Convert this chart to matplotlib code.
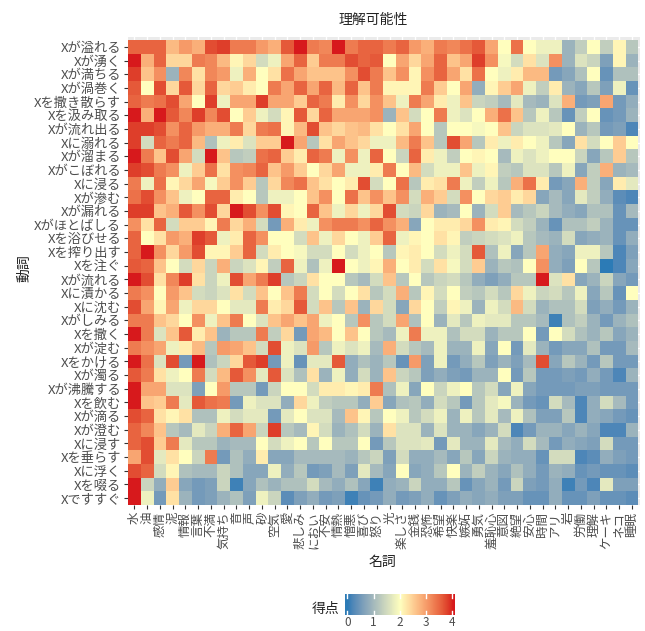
import numpy as np
import matplotlib
matplotlib.use("Agg")
import matplotlib.pyplot as plt
from matplotlib.colors import ListedColormap

plt.rcParams['font.family'] = ['Noto Sans CJK JP', 'DejaVu Sans']

verbs = ["Xが溢れる", "Xが湧く", "Xが満ちる", "Xが渦巻く", "Xを撒き散らす", "Xを汲み取る",
         "Xが流れ出る", "Xに溺れる", "Xが溜まる", "Xがこぼれる", "Xに浸る", "Xが滲む",
         "Xが漏れる", "Xがほとばしる", "Xを浴びせる", "Xを搾り出す", "Xを注ぐ", "Xが流れる",
         "Xに漬かる", "Xに沈む", "Xがしみる", "Xを撒く", "Xが淀む", "Xをかける", "Xが濁る",
         "Xが沸騰する", "Xを飲む", "Xが滴る", "Xが澄む", "Xに浸す", "Xを垂らす", "Xに浮く",
         "Xを啜る", "Xですすぐ"]

nouns = ["水", "油", "感情", "泥", "情報", "言葉", "不満", "気持ち", "音", "声", "砂", "空気",
         "愛", "悲しみ", "におい", "不安", "情熱", "憎悪", "喜び", "怒り", "光", "楽しさ",
         "金銭", "恐怖", "希望", "快楽", "嫉妬", "勇気", "羞恥心", "意図", "絶望", "安心",
         "時間", "アリ", "岩", "労働", "理解", "ケーキ", "ネコ", "睡眠"]

scores = [
    [3.5, 3.5, 3.5, 2.7, 3.0, 2.8, 3.7, 3.8, 3.3, 3.3, 3.0, 2.8, 3.6, 4.0, 3.3, 3.2, 4.0, 3.3, 3.5, 3.5, 3.3, 3.5, 3.0, 2.8, 3.3, 3.2, 3.4, 3.6, 2.9, 2.0, 3.4, 2.0, 1.8, 1.8, 0.9, 1.3, 2.0, 1.3, 2.1, 1.2],
    [4.0, 2.8, 3.5, 2.4, 2.4, 3.3, 3.2, 2.7, 2.1, 2.4, 1.5, 1.8, 2.9, 3.5, 2.5, 3.3, 3.3, 3.7, 3.5, 3.6, 2.0, 2.9, 2.4, 2.9, 3.5, 2.6, 2.9, 3.8, 3.1, 1.9, 1.5, 2.3, 1.6, 3.1, 0.9, 1.6, 1.4, 0.6, 2.1, 0.9],
    [3.8, 2.6, 3.1, 0.9, 3.2, 2.3, 3.2, 3.0, 1.8, 2.8, 2.0, 2.3, 3.4, 2.9, 2.6, 2.6, 2.6, 3.1, 3.7, 3.3, 2.6, 3.1, 2.1, 3.1, 3.5, 2.9, 2.3, 3.4, 2.0, 1.8, 2.2, 2.7, 2.7, 0.5, 0.7, 1.1, 2.0, 0.4, 1.1, 1.1],
    [3.6, 2.0, 3.7, 2.4, 3.6, 2.4, 3.5, 2.4, 2.5, 2.2, 2.0, 3.3, 2.9, 3.5, 2.9, 3.5, 2.7, 3.5, 2.6, 3.3, 2.1, 2.1, 2.1, 3.3, 2.5, 2.0, 2.9, 0.8, 2.1, 2.5, 2.9, 1.8, 1.3, 2.2, 0.9, 0.7, 1.2, 0.6, 1.8, 0.4],
    [3.5, 3.3, 3.4, 3.7, 2.9, 2.0, 3.8, 1.8, 2.9, 2.9, 3.8, 2.9, 2.9, 2.5, 3.5, 3.3, 2.2, 3.1, 2.4, 3.1, 2.6, 1.8, 3.3, 2.9, 2.2, 1.8, 2.6, 1.4, 1.3, 1.0, 1.7, 1.0, 0.9, 1.6, 2.8, 0.5, 0.6, 2.9, 0.5, 0.8],
    [4.0, 2.8, 4.0, 3.6, 3.2, 3.8, 3.2, 3.7, 2.0, 2.5, 1.8, 1.5, 2.1, 3.6, 2.4, 3.5, 2.9, 2.9, 2.9, 3.1, 0.9, 2.6, 1.5, 2.0, 3.3, 1.8, 1.6, 2.0, 2.8, 3.4, 2.6, 1.2, 1.8, 1.2, 0.4, 1.3, 2.0, 0.4, 0.5, 0.9],
    [3.8, 3.8, 3.7, 3.1, 3.5, 3.0, 2.8, 2.8, 3.3, 2.4, 3.3, 3.4, 2.1, 2.7, 3.7, 2.6, 2.4, 2.6, 2.7, 2.3, 2.0, 2.3, 2.9, 2.0, 1.2, 2.0, 2.0, 1.9, 2.0, 2.6, 1.4, 1.6, 1.6, 1.7, 2.0, 0.9, 1.2, 0.5, 0.6, 0.2],
    [3.8, 1.5, 3.5, 3.3, 3.5, 2.7, 1.1, 1.8, 2.2, 1.6, 2.5, 2.5, 4.0, 2.9, 1.2, 2.3, 2.9, 2.6, 2.4, 1.8, 1.8, 2.7, 3.3, 2.6, 1.2, 3.7, 2.9, 1.2, 2.2, 1.8, 2.2, 2.0, 1.8, 1.2, 0.7, 2.3, 1.5, 2.0, 2.5, 2.0],
    [4.0, 3.3, 2.6, 3.7, 2.9, 1.5, 4.0, 2.6, 1.2, 1.3, 3.4, 3.5, 2.5, 2.2, 3.5, 3.3, 1.8, 3.1, 1.8, 3.5, 2.0, 1.4, 3.5, 2.2, 1.8, 1.3, 2.0, 2.1, 2.0, 1.0, 1.8, 1.6, 1.8, 2.0, 2.0, 1.4, 0.7, 1.2, 2.5, 1.2],
    [3.8, 3.7, 3.3, 3.1, 1.8, 2.5, 3.4, 2.3, 3.1, 3.2, 3.5, 2.6, 3.0, 2.5, 2.0, 2.4, 2.9, 1.8, 1.8, 2.2, 3.3, 2.0, 2.7, 1.5, 1.8, 1.8, 2.6, 1.8, 2.1, 1.3, 1.2, 1.6, 1.6, 1.2, 1.8, 0.7, 1.3, 2.8, 0.9, 1.0],
    [3.3, 1.8, 3.4, 2.1, 2.4, 2.9, 1.9, 2.5, 3.1, 2.5, 1.2, 2.4, 3.2, 3.4, 2.6, 2.3, 2.0, 2.2, 3.7, 1.5, 2.0, 3.4, 1.2, 2.2, 2.3, 3.3, 1.8, 1.3, 1.8, 1.2, 2.8, 3.4, 2.2, 0.5, 0.7, 2.8, 1.3, 0.7, 2.2, 1.7],
    [3.4, 3.7, 3.1, 2.6, 1.8, 2.0, 3.5, 3.5, 2.2, 2.0, 1.2, 1.8, 1.8, 2.0, 2.6, 3.1, 2.0, 3.4, 2.6, 3.1, 2.6, 3.1, 1.5, 2.8, 2.5, 1.5, 3.1, 2.0, 2.4, 2.5, 2.2, 2.4, 0.7, 1.0, 0.7, 1.7, 1.3, 0.8, 0.3, 0.2],
    [3.8, 3.8, 2.6, 2.8, 3.6, 3.1, 3.7, 2.4, 4.0, 3.7, 3.1, 3.7, 2.1, 2.0, 3.5, 2.6, 1.8, 2.4, 1.8, 2.4, 3.7, 1.5, 1.4, 2.4, 0.9, 1.0, 2.0, 0.9, 1.5, 2.5, 1.0, 1.2, 1.4, 1.0, 0.8, 0.7, 1.1, 1.1, 0.4, 1.0],
    [3.1, 2.3, 3.5, 1.5, 2.5, 2.5, 2.1, 3.3, 2.4, 2.8, 1.5, 0.5, 2.8, 2.2, 1.8, 3.1, 3.3, 3.3, 3.1, 3.5, 3.1, 2.8, 0.7, 2.0, 2.2, 2.2, 2.4, 3.1, 2.2, 2.1, 1.5, 1.3, 0.9, 0.4, 1.1, 1.1, 1.3, 0.9, 0.4, 0.4],
    [3.5, 2.0, 2.3, 3.0, 2.8, 3.8, 3.6, 1.8, 2.2, 3.5, 3.1, 2.0, 2.0, 1.5, 2.6, 1.8, 2.4, 2.0, 1.8, 2.5, 3.5, 1.8, 2.1, 2.0, 2.3, 2.1, 1.3, 1.4, 1.5, 1.6, 1.8, 1.2, 1.0, 0.9, 1.5, 0.7, 0.8, 0.9, 0.4, 0.8],
    [3.5, 4.0, 3.1, 2.4, 3.0, 3.7, 2.1, 2.1, 2.5, 3.5, 1.5, 2.2, 2.0, 1.9, 1.5, 1.5, 2.0, 1.5, 1.8, 2.0, 1.2, 2.1, 2.2, 2.0, 1.5, 1.8, 1.5, 3.6, 1.1, 1.8, 0.7, 1.2, 2.9, 0.8, 0.7, 1.8, 1.8, 1.2, 0.2, 0.6],
    [3.6, 3.5, 2.6, 2.0, 1.5, 2.4, 1.4, 2.8, 1.4, 1.6, 2.1, 1.3, 3.5, 1.8, 1.1, 1.8, 4.0, 2.0, 1.8, 2.1, 2.8, 2.0, 2.2, 1.5, 2.3, 1.9, 1.5, 2.5, 0.9, 1.2, 1.1, 2.0, 3.1, 0.8, 0.6, 2.0, 1.2, 0.0, 0.2, 0.7],
    [4.0, 3.7, 2.3, 3.2, 3.8, 2.3, 1.4, 1.8, 3.7, 2.9, 3.3, 3.8, 1.2, 1.4, 2.3, 2.0, 2.0, 1.2, 1.0, 1.5, 2.6, 1.2, 2.0, 1.2, 1.4, 1.5, 1.2, 0.8, 0.6, 0.8, 1.2, 1.2, 4.0, 1.6, 2.3, 0.7, 0.9, 1.4, 0.7, 0.5],
    [3.3, 3.1, 2.0, 3.0, 2.6, 1.5, 1.4, 1.6, 2.3, 1.5, 2.6, 2.0, 2.6, 3.3, 1.5, 2.0, 1.5, 2.0, 2.3, 1.2, 1.5, 2.8, 1.2, 2.1, 1.5, 2.0, 1.3, 1.2, 1.5, 1.2, 2.4, 1.8, 1.4, 1.5, 1.2, 1.8, 0.7, 1.2, 0.4, 2.0],
    [3.7, 2.9, 2.1, 2.9, 1.8, 2.4, 2.4, 2.0, 1.7, 1.7, 3.3, 2.2, 2.4, 3.6, 1.5, 2.6, 1.2, 2.6, 0.9, 2.4, 1.5, 0.7, 2.4, 2.0, 1.3, 2.1, 1.8, 0.9, 1.8, 1.5, 2.7, 1.5, 0.9, 1.1, 1.1, 1.5, 0.6, 0.8, 0.5, 0.9],
    [3.3, 3.3, 2.6, 2.4, 2.0, 3.1, 1.8, 2.6, 3.3, 2.0, 1.6, 2.6, 2.9, 2.6, 2.9, 1.8, 2.0, 1.2, 3.1, 1.2, 1.5, 2.9, 1.1, 2.0, 0.9, 1.7, 1.2, 1.8, 1.7, 1.7, 1.2, 1.2, 1.0, 0.1, 1.1, 1.3, 0.9, 0.5, 0.9, 1.1],
    [4.0, 3.3, 1.6, 2.6, 3.6, 2.2, 2.6, 0.9, 1.2, 1.2, 3.3, 1.3, 2.4, 0.5, 2.9, 2.7, 2.0, 2.6, 2.0, 1.2, 1.0, 1.8, 3.3, 1.8, 1.8, 1.1, 1.5, 1.5, 0.9, 1.2, 1.2, 2.0, 0.5, 2.0, 1.5, 1.1, 0.9, 1.2, 0.7, 0.9],
    [3.3, 3.1, 2.9, 1.8, 2.2, 2.7, 1.2, 3.0, 2.9, 2.6, 1.5, 3.7, 1.8, 1.6, 3.0, 1.2, 1.8, 1.6, 1.8, 1.0, 2.8, 1.5, 1.2, 1.0, 1.8, 0.9, 0.9, 1.8, 0.7, 2.0, 0.5, 1.7, 0.9, 0.5, 0.7, 0.7, 1.1, 0.5, 0.5, 1.0],
    [4.0, 3.4, 1.6, 3.7, 0.5, 4.0, 1.1, 1.4, 2.4, 3.6, 3.8, 0.5, 1.8, 0.4, 1.7, 1.7, 3.6, 0.8, 1.1, 0.9, 1.2, 0.4, 3.0, 0.6, 1.8, 0.5, 0.8, 1.2, 0.6, 0.9, 0.6, 1.0, 3.7, 0.7, 1.2, 0.9, 0.5, 1.2, 0.5, 0.5],
    [3.6, 3.3, 2.3, 1.8, 2.0, 3.3, 1.5, 2.7, 3.6, 3.1, 1.7, 3.6, 1.6, 1.1, 2.3, 0.9, 1.8, 0.8, 1.5, 0.9, 2.6, 1.4, 1.2, 0.6, 0.8, 0.6, 0.5, 0.9, 0.9, 2.0, 0.5, 1.2, 0.5, 0.5, 0.6, 0.5, 0.8, 0.5, 0.2, 0.9],
    [4.0, 2.9, 2.9, 1.6, 1.6, 0.6, 2.0, 3.0, 1.2, 1.2, 0.5, 1.4, 2.0, 2.0, 1.5, 2.2, 2.2, 2.1, 2.2, 3.3, 1.1, 1.8, 0.7, 2.0, 1.4, 1.8, 2.0, 1.2, 1.5, 0.7, 1.8, 0.7, 0.5, 0.5, 0.5, 0.6, 0.6, 0.5, 0.5, 0.5],
    [4.0, 2.6, 2.5, 3.3, 1.7, 3.6, 3.4, 3.3, 0.5, 1.8, 1.6, 1.6, 0.8, 2.4, 1.8, 1.3, 1.2, 1.2, 0.8, 2.5, 0.7, 1.1, 1.2, 0.8, 1.5, 1.2, 0.5, 1.2, 1.7, 1.9, 0.9, 0.5, 0.4, 1.5, 1.0, 0.2, 0.8, 1.5, 1.0, 0.5],
    [3.7, 3.5, 2.3, 2.1, 2.3, 1.1, 1.1, 1.8, 1.5, 1.7, 1.7, 0.5, 1.7, 2.0, 1.6, 1.6, 1.0, 2.6, 2.1, 1.2, 2.0, 1.8, 1.2, 1.5, 1.8, 0.9, 1.8, 1.2, 1.7, 1.0, 1.8, 1.1, 0.6, 0.6, 1.2, 0.2, 0.8, 0.7, 0.5, 0.4],
    [3.5, 3.2, 2.6, 1.2, 1.0, 1.7, 1.4, 2.8, 3.5, 2.9, 1.4, 3.8, 1.2, 1.0, 2.1, 1.5, 0.9, 1.1, 1.5, 0.9, 2.3, 1.6, 1.6, 0.9, 1.6, 0.9, 0.9, 0.7, 0.9, 1.5, 0.2, 0.5, 0.9, 0.9, 0.7, 0.9, 0.7, 0.2, 0.2, 0.9],
    [3.5, 3.7, 2.5, 3.3, 1.7, 1.2, 1.2, 0.9, 1.0, 1.0, 2.0, 1.5, 1.8, 2.0, 1.2, 2.0, 1.2, 1.2, 2.0, 0.5, 1.2, 1.6, 1.6, 1.7, 0.5, 1.7, 0.9, 0.9, 1.7, 1.0, 0.8, 1.5, 1.0, 0.5, 0.8, 0.7, 0.6, 1.5, 0.5, 0.5],
    [2.9, 3.7, 1.7, 2.3, 2.0, 1.4, 3.3, 0.5, 1.1, 0.8, 2.2, 0.7, 0.7, 1.0, 1.0, 1.0, 1.0, 0.9, 1.2, 1.4, 0.6, 1.5, 0.8, 0.8, 1.0, 0.7, 1.2, 0.7, 1.4, 0.9, 0.8, 0.8, 0.4, 1.5, 1.5, 0.2, 0.3, 0.8, 0.6, 0.5],
    [3.7, 3.5, 1.5, 2.1, 1.1, 1.0, 1.0, 1.4, 1.1, 0.7, 0.7, 1.8, 0.8, 1.2, 0.5, 0.6, 1.0, 0.6, 1.7, 1.0, 0.7, 2.0, 0.7, 0.8, 1.2, 2.0, 0.9, 1.3, 0.9, 0.7, 1.1, 0.8, 0.5, 0.9, 0.8, 0.4, 0.5, 0.4, 0.4, 0.3],
    [4.0, 1.4, 0.8, 2.5, 0.7, 0.5, 0.6, 1.4, 0.1, 0.7, 1.1, 0.9, 1.1, 1.1, 1.5, 1.0, 0.8, 1.1, 0.7, 0.1, 0.8, 0.9, 1.4, 0.8, 0.8, 1.2, 0.4, 0.7, 0.9, 0.5, 1.4, 0.6, 0.5, 0.8, 0.1, 0.5, 0.2, 1.7, 0.6, 0.6],
    [4.0, 1.8, 0.5, 2.3, 0.9, 0.5, 0.6, 0.9, 1.1, 0.6, 1.8, 1.4, 0.3, 0.6, 0.8, 0.5, 0.6, 0.1, 0.4, 0.5, 0.8, 0.5, 0.6, 0.8, 0.4, 0.6, 0.8, 0.7, 0.8, 0.6, 0.6, 0.4, 0.4, 0.8, 0.4, 0.4, 0.6, 0.4, 0.4, 0.3],
]

cbar_ticks = [0, 1, 2, 3, 4]

# ---- Lab-interpolated diverging palette (low / mid / high) ----
def srgb_to_lab(rgb):
    rgb = np.asarray(rgb, float)
    lin = np.where(rgb <= 0.04045, rgb / 12.92, ((rgb + 0.055) / 1.055) ** 2.4)
    M = np.array([[0.4124, 0.3576, 0.1805], [0.2126, 0.7152, 0.0722], [0.0193, 0.1192, 0.9505]])
    xyz = lin @ M.T / np.array([0.95047, 1.0, 1.08883])
    f = np.where(xyz > 0.008856, np.cbrt(xyz), 7.787 * xyz + 16 / 116)
    L = 116 * f[..., 1] - 16
    a = 500 * (f[..., 0] - f[..., 1])
    b = 200 * (f[..., 1] - f[..., 2])
    return np.stack([L, a, b], -1)

def lab_to_srgb(lab):
    L, a, b = lab[..., 0], lab[..., 1], lab[..., 2]
    fy = (L + 16) / 116
    fx = fy + a / 500
    fz = fy - b / 200
    f = np.stack([fx, fy, fz], -1)
    xyz = np.where(f ** 3 > 0.008856, f ** 3, (f - 16 / 116) / 7.787) * np.array([0.95047, 1.0, 1.08883])
    Minv = np.array([[3.2406, -1.5372, -0.4986], [-0.9689, 1.8758, 0.0415], [0.0557, -0.2040, 1.0570]])
    lin = np.clip(xyz @ Minv.T, 0, 1)
    rgb = np.where(lin <= 0.0031308, 12.92 * lin, 1.055 * lin ** (1 / 2.4) - 0.055)
    return np.clip(rgb, 0, 1)

def hex2rgb(h):
    h = h.lstrip('#')
    return [int(h[i:i + 2], 16) / 255 for i in (0, 2, 4)]

anchors = srgb_to_lab(np.array([hex2rgb("#2c7bb6"), hex2rgb("#ffffbf"), hex2rgb("#d7191c")]))
t = np.linspace(0, 1, 256)
labs = np.empty((256, 3))
for i, tt in enumerate(t):
    if tt <= 0.5:
        u = tt / 0.5
        labs[i] = anchors[0] * (1 - u) + anchors[1] * u
    else:
        u = (tt - 0.5) / 0.5
        labs[i] = anchors[1] * (1 - u) + anchors[2] * u
cmap = ListedColormap(lab_to_srgb(labs))

W, H = 645, 631
fig = plt.figure(figsize=(W / 100, H / 100), dpi=100)

# panel geometry in pixels
px_l, px_r, px_t, px_b = 128, 640, 37, 505
ax = fig.add_axes([px_l / W, 1 - px_b / H, (px_r - px_l) / W, (px_b - px_t) / H])
ax.set_facecolor("#EBEBEB")
data = np.array(scores)
nr, nc = data.shape
ax.pcolormesh(np.arange(nc + 1) - 0.5, np.arange(nr + 1) - 0.5, data,
              cmap=cmap, vmin=0, vmax=4, zorder=2)
cell_w = (638.3 - 128) / nc
cell_h = (505 - 40) / nr
ax.set_xlim(-0.5, nc - 0.5 + (px_r - 638.3) / cell_w)
ax.set_ylim(nr - 0.5, -0.5 - (40 - px_t) / cell_h)
ax.set_xticks(range(nc))
ax.set_yticks(range(nr))
ax.set_xticklabels(nouns, rotation=90, va='top', ha='center', fontsize=9, color='#4D4D4D')
ax.set_yticklabels(verbs, fontsize=9.5, color='#4D4D4D')
ax.tick_params(axis='both', length=3, width=0.8, color='#333333', pad=2)
ax.grid(True, color='white', linewidth=1, zorder=1)
ax.set_axisbelow(True)
for s in ax.spines.values():
    s.set_visible(False)

fig.text(373 / W, 1 - 20 / H, "理解可能性", ha='center', va='center', fontsize=10, color='#222222')
fig.text(382 / W, 1 - 562 / H, "名詞", ha='center', va='center', fontsize=10, color='#222222')
fig.text(24 / W, 1 - 268 / H, "動詞", ha='center', va='center', rotation=90, fontsize=10, color='#222222')

# colour bar
cb_l, cb_r, cb_t, cb_b = 345, 454, 594, 615
cax = fig.add_axes([cb_l / W, 1 - cb_b / H, (cb_r - cb_l) / W, (cb_b - cb_t) / H])
lo = 0 - (347.3 - cb_l) * 4 / (452.3 - 347.3)
hi = 4 + (cb_r - 452.3) * 4 / (452.3 - 347.3)
cax.imshow(np.linspace(lo, hi, 256).reshape(1, -1), aspect='auto', cmap=cmap, vmin=0, vmax=4,
           extent=[lo, hi, 0, 1])
cax.set_xlim(lo, hi)
cax.set_ylim(0, 1)
for v in cbar_ticks:
    cax.plot([v, v], [0, 0.2], color='white', lw=1)
    cax.plot([v, v], [0.8, 1], color='white', lw=1)
cax.set_yticks([])
cax.set_xticks(cbar_ticks)
cax.set_xticklabels([str(v) for v in cbar_ticks], fontsize=8.5, color='#4D4D4D')
cax.tick_params(axis='x', length=0, pad=0.5)
for s in cax.spines.values():
    s.set_visible(False)
fig.text(339 / W, 1 - 609 / H, "得点", ha='right', va='center', fontsize=10, color='#222222')

fig.savefig("out.png", dpi=100)
